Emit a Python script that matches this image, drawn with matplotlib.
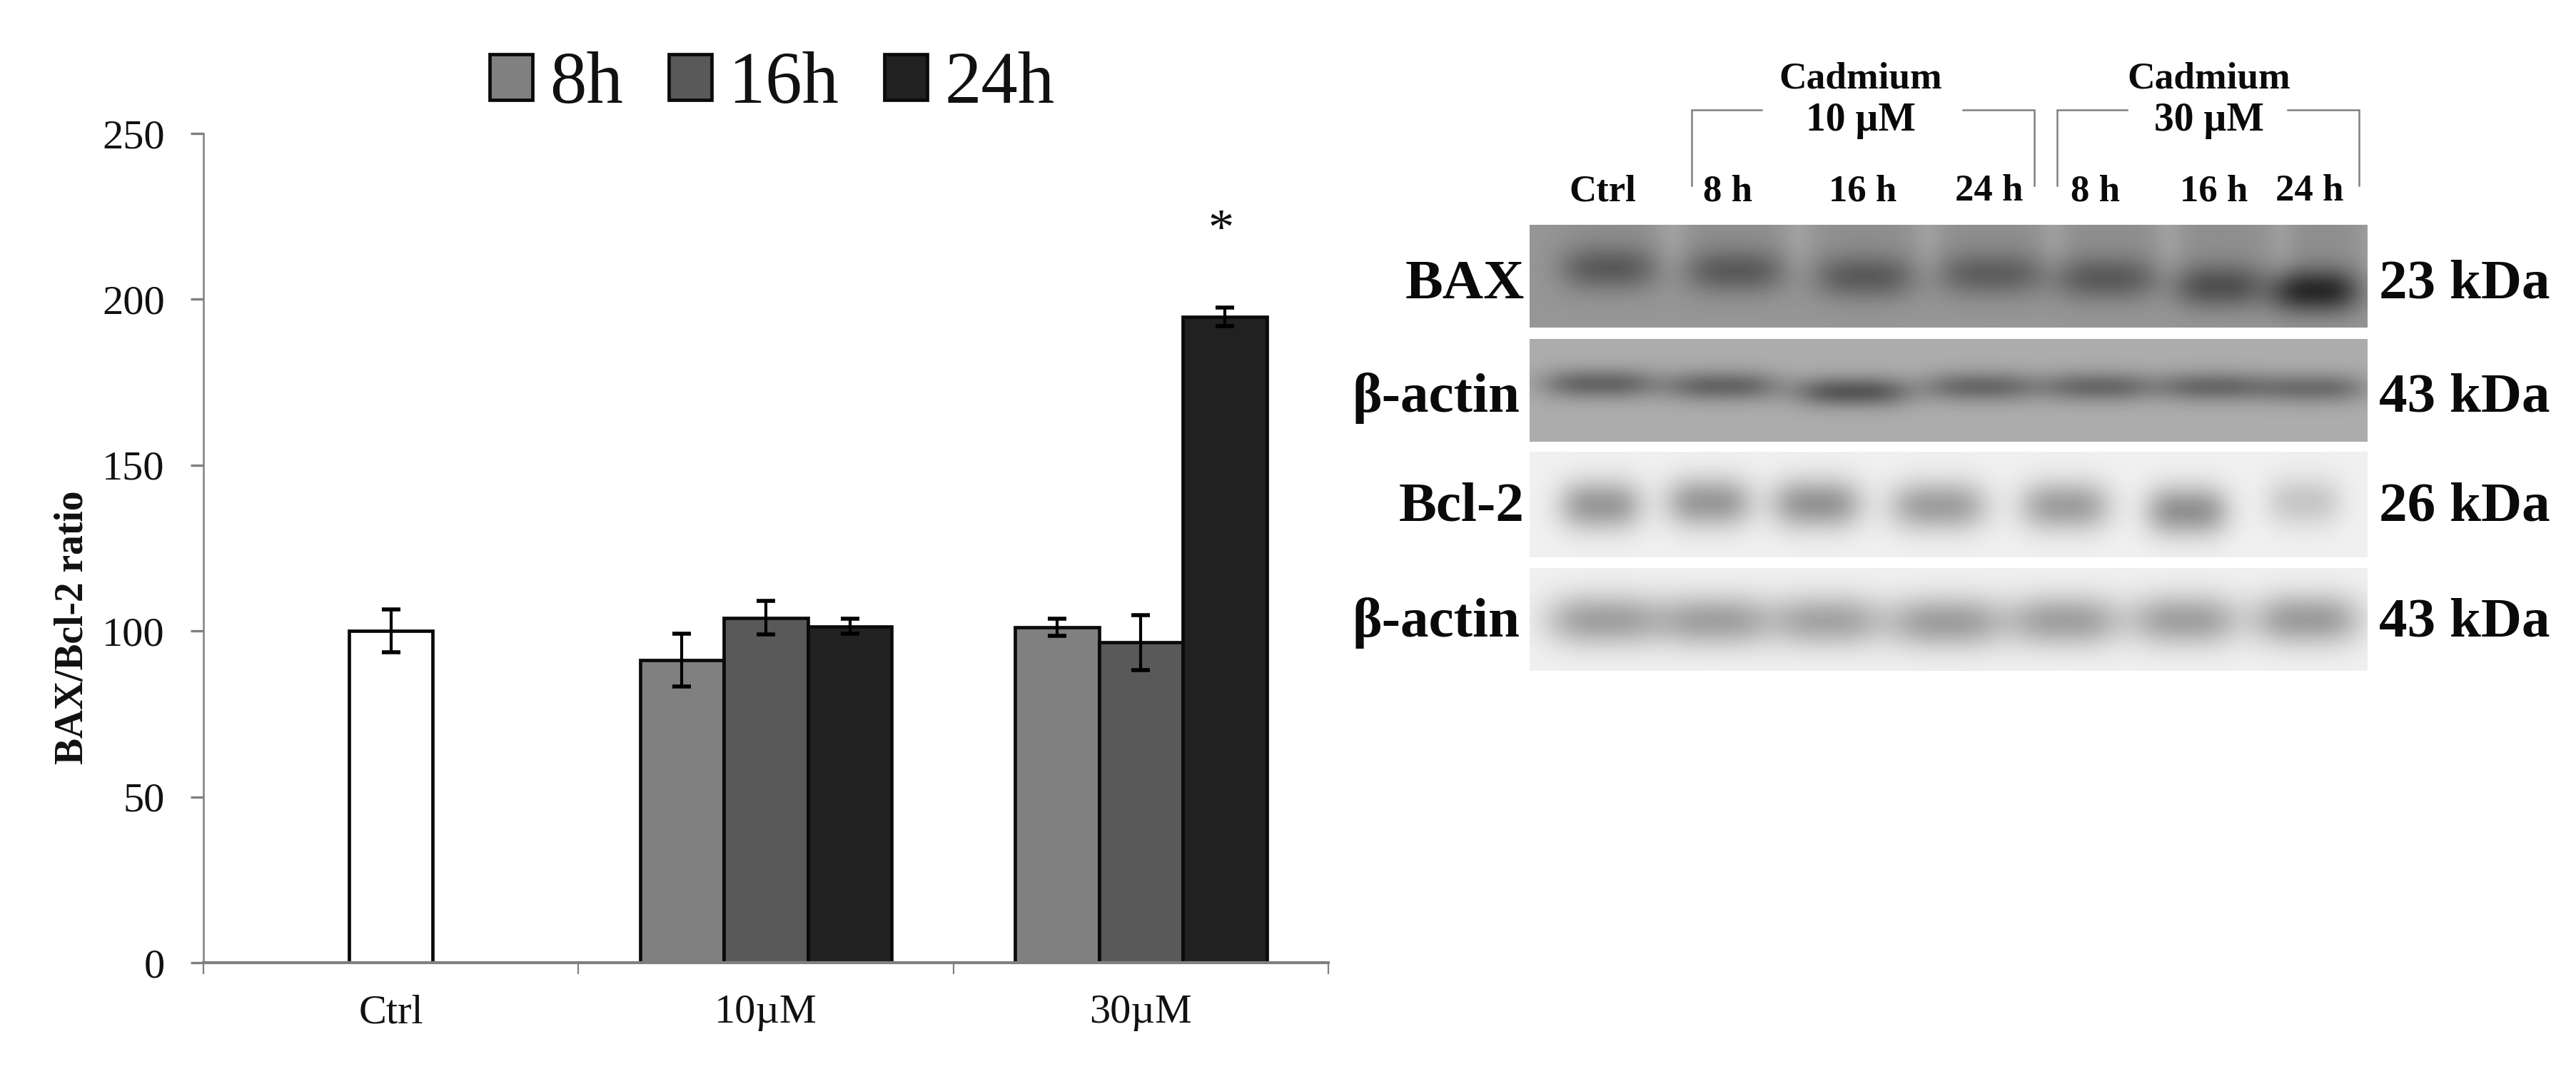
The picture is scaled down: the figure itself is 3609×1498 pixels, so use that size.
import numpy as np
import matplotlib
matplotlib.use("Agg")
import matplotlib.pyplot as plt

plt.rcParams['font.family'] = ['Liberation Serif', 'DejaVu Serif']

# ---- chart data ----
groups = ['Ctrl', '10µM', '30µM']
series = ['8h', '16h', '24h']
ctrl_value = [100]
ctrl_err = [6.4]
v_8h = [91.2, 101.2]
v_16h = [104, 96.5]
v_24h = [101.4, 194.7]
e_8h = [8.0, 2.6]
e_16h = [5.0, 8.2]
e_24h = [2.2, 2.7]
yticks = [0, 50, 100, 150, 200, 250]

# ---- western-blot panels (pixel layout of the image panel) ----
blot_names = ['BAX', 'β-actin', 'Bcl-2', 'β-actin']
blot_kda = ['23 kDa', '43 kDa', '26 kDa', '43 kDa']
blot_y0 = [315, 475, 633, 796]
blot_y1 = [459, 619, 781, 940]
blot_bg = [150, 172, 240, 240]
blot_lanes = [
    [2253, 2430, 2612, 2789, 2951, 3109, 3243],
    [2240, 2412, 2595, 2775, 2940, 3100, 3240],
    [2241, 2393, 2544, 2715, 2893, 3064, 3228],
    [2246, 2402, 2559, 2726, 2893, 3061, 3232],
]
blot_rows = [
    [375, 379, 387, 383, 389, 400, 406],
    [536, 539, 547, 540, 540, 540, 542],
    [706, 702, 704, 707, 707, 714, 701],
    [867, 868, 868, 870, 868, 867, 866],
]
blot_dark = [
    [56, 56, 56, 52, 56, 66, 106],
    [72, 72, 86, 68, 68, 68, 64],
    [88, 88, 92, 82, 82, 95, 42],
    [80, 80, 76, 82, 80, 80, 84],
]
blot_sx = [
    [54, 56, 56, 60, 58, 50, 50],
    [64, 64, 64, 64, 64, 60, 60],
    [46, 48, 50, 54, 50, 46, 42],
    [64, 64, 60, 66, 62, 60, 60],
]
blot_sy = [22, 15, 25, 26]
lane_labels = ['Ctrl', '8 h', '16 h', '24 h', '8 h', '16 h', '24 h']
lane_label_x = [2245, 2420, 2610, 2787, 2935, 3102, 3236]

W, H = 3609, 1498
fig = plt.figure(figsize=(W / 100, H / 100), dpi=100, facecolor='white')

# ---- bar chart ----
ax = fig.add_axes([285 / W, 1 - 1349 / H, (1861 - 285) / W, (1349 - 187) / H])
bw = 0.2237
colors = ['#808080', '#595959', '#212121']
edge = dict(edgecolor='#0a0a0a', linewidth=3.4)
ebk = dict(fmt='none', ecolor='black', elinewidth=3.0, capsize=9.5, capthick=4.0, zorder=5)
ax.bar([0], ctrl_value, bw, color='white', **edge)
ax.errorbar([0], ctrl_value, yerr=ctrl_err, **ebk)
xg = np.array([1, 2])
handles = []
for off, vals, errs, c, name in zip([-bw, 0, bw], [v_8h, v_16h, v_24h], [e_8h, e_16h, e_24h], colors, series):
    b = ax.bar(xg + off, vals, bw, color=c, label=name, **edge)
    ax.errorbar(xg + off, vals, yerr=errs, **ebk)
    handles.append(b)
ax.text(2 + bw - 0.01, 220.5, '*', ha='center', va='center', fontsize=52, color='#111111')

ax.set_xlim(-0.5, 2.5)
ax.set_ylim(0, 250)
ax.set_yticks(yticks)
ax.set_xticks([-0.5, 0.5, 1.5, 2.5])
ax.set_xticklabels([])
ax.set_xticks([0, 1, 2], minor=True)
ax.set_xticklabels(groups, minor=True, fontsize=42, color='#111111')
ax.tick_params(axis='x', which='minor', length=0, pad=32)
ax.tick_params(axis='x', which='major', length=11.5, width=1.6, color='#808080')
ax.tick_params(axis='y', length=13, width=2.4, color='#808080', pad=26, labelsize=42, labelcolor='#111111')
for s in ['top', 'right']:
    ax.spines[s].set_visible(False)
ax.spines['left'].set_color('#808080')
ax.spines['left'].set_linewidth(1.8)
ax.spines['bottom'].set_color('#808080')
ax.spines['bottom'].set_linewidth(3.0)
ax.set_ylabel('BAX/Bcl-2 ratio', fontsize=40, fontweight='bold', color='#111111', va='center')
ax.yaxis.set_label_coords((102 - 285) / (1861 - 285), 0.404)

leg = fig.legend(handles=handles, labels=series, loc='center',
                 bbox_to_anchor=(1082 / W, 1 - 119 / H), ncol=3, frameon=False,
                 fontsize=74, handlelength=0.58, handleheight=0.58,
                 handletextpad=0.24, columnspacing=0.62, borderpad=0, labelcolor='#111111')

# ---- overlay in pixel coordinates for the blot panel ----
ov = fig.add_axes([0, 0, 1, 1], facecolor='none')
ov.set_xlim(0, W)
ov.set_ylim(H, 0)
ov.axis('off')

x0, x1 = 2143, 3316
name_ys = [399, 558, 711, 873]
name_right = [2136, 2129, 2136, 2129]
for i in range(4):
    y0, y1 = blot_y0[i], blot_y1[i]
    xs = np.arange(x0, x1, 4.0)
    ys = np.arange(y0, y1, 4.0)
    X, Y = np.meshgrid(xs, ys)
    img = np.full(X.shape, float(blot_bg[i]))
    for lx, ly, d, sx in zip(blot_lanes[i], blot_rows[i], blot_dark[i], blot_sx[i]):
        gx = np.exp(-0.5 * (np.abs(X - lx) / sx) ** 3)
        img -= d * gx * np.exp(-0.5 * ((Y - ly) / blot_sy[i]) ** 2)
        if i == 0:   # smooth smear above the BAX bands, pale gaps between lanes
            up = 1 / (1 + np.exp((Y - ly) / 12))
            img -= 8 * gx * up
            img += 12 * np.exp(-0.5 * ((X - lx - 88) / 16) ** 2) * up
    ov.imshow(img, cmap='gray', vmin=0, vmax=255, extent=(x0, x1, y1, y0),
              interpolation='bilinear', aspect='auto', zorder=1)
    ov.text(name_right[i], name_ys[i], blot_names[i], ha='right', va='center', fontsize=57,
            fontweight='bold', color='#0a0a0a')
    ov.text(3333, name_ys[i], blot_kda[i], ha='left', va='center', fontsize=57,
            fontweight='bold', color='#0a0a0a')
ov.set_xlim(0, W)
ov.set_ylim(H, 0)

for x, lab in zip(lane_label_x, lane_labels):
    ov.text(x, 268, lab, ha='center', va='center', fontsize=38, fontweight='bold', color='#0a0a0a')
for cx, top in [(2607, '10 µM'), (3095, '30 µM')]:
    ov.text(cx, 111, 'Cadmium', ha='center', va='center', fontsize=38.5, fontweight='bold', color='#0a0a0a')
    ov.text(cx, 169, top, ha='center', va='center', fontsize=40, fontweight='bold', color='#0a0a0a')
for xa, xb, xc, xd in [(2370, 2468, 2750, 2850), (2882, 2980, 3205, 3305)]:
    ov.plot([xa, xa, xb], [260, 154, 154], color='#808080', lw=1.8, solid_joinstyle='miter')
    ov.plot([xc, xd, xd], [154, 154, 260], color='#808080', lw=1.8, solid_joinstyle='miter')

fig.savefig('out.png', dpi=100, facecolor='white')
